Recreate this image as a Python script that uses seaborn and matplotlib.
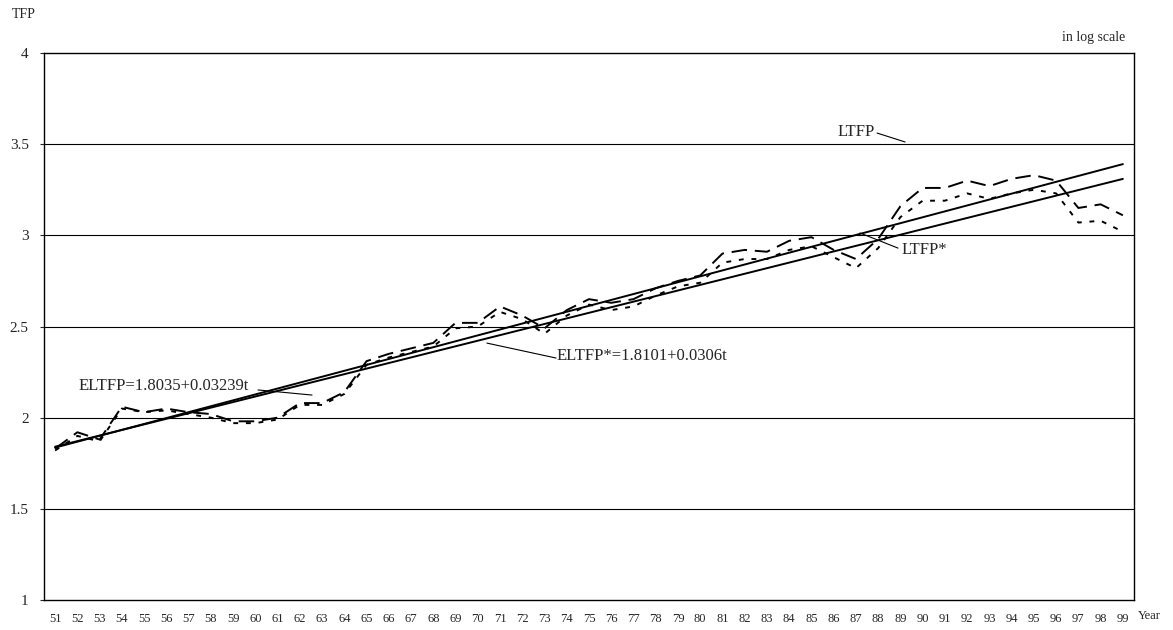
import numpy as np
import pandas as pd
import matplotlib
matplotlib.use("Agg")
import matplotlib.pyplot as plt
import seaborn as sns

years = list(range(51, 100))
ltfp = [1.83, 1.92, 1.88, 2.06, 2.03, 2.05, 2.03, 2.02, 1.98, 1.98,
        2.00, 2.08, 2.08, 2.14, 2.31, 2.35, 2.38, 2.41, 2.52, 2.52,
        2.61, 2.56, 2.49, 2.59, 2.65, 2.63, 2.65, 2.71, 2.75, 2.78,
        2.90, 2.92, 2.91, 2.97, 2.99, 2.92, 2.87, 2.98, 3.16, 3.26,
        3.26, 3.30, 3.27, 3.31, 3.33, 3.30, 3.15, 3.17, 3.11]
ltfp_star = [1.82, 1.90, 1.87, 2.05, 2.03, 2.04, 2.02, 2.00, 1.97, 1.97,
             1.99, 2.07, 2.07, 2.13, 2.29, 2.33, 2.36, 2.39, 2.49, 2.50,
             2.58, 2.54, 2.46, 2.56, 2.62, 2.59, 2.61, 2.67, 2.72, 2.74,
             2.85, 2.87, 2.87, 2.92, 2.94, 2.88, 2.82, 2.93, 3.10, 3.19,
             3.19, 3.23, 3.20, 3.23, 3.25, 3.23, 3.07, 3.08, 3.02]

# fitted trends as printed on the chart: a + b*t, t = 1 for 1951
eltfp_coef = (1.8035, 0.03239)
eltfp_star_coef = (1.8101, 0.0306)

t = np.array(years) - 50
df = pd.DataFrame({
    "year": years,
    "LTFP": ltfp,
    "LTFP*": ltfp_star,
    "ELTFP": eltfp_coef[0] + eltfp_coef[1] * t,
    "ELTFP*": eltfp_star_coef[0] + eltfp_star_coef[1] * t,
})

sns.set_style("white")
plt.rcParams["font.family"] = ["Liberation Serif", "DejaVu Serif"]

fig = plt.figure(figsize=(11.73, 6.3), dpi=100)
ax = fig.add_axes([44 / 1173, 30 / 630, 1090 / 1173, 547 / 630])

for y in [1.5, 2, 2.5, 3, 3.5]:
    ax.axhline(y, color="black", lw=0.8, zorder=0)

sns.lineplot(data=df, x="year", y="ELTFP", color="black", lw=1.4, ax=ax)
sns.lineplot(data=df, x="year", y="ELTFP*", color="black", lw=1.4, ax=ax)
sns.lineplot(data=df, x="year", y="LTFP", color="black", lw=1.4,
             dashes=False, linestyle=(0, (8, 4)), ax=ax)
sns.lineplot(data=df, x="year", y="LTFP*", color="black", lw=1.4,
             dashes=False, linestyle=(0, (2.5, 4)), ax=ax)

ax.set_xlim(50.5, 99.5)
ax.set_ylim(1, 4)
ax.set_yticks([1, 1.5, 2, 2.5, 3, 3.5, 4])
ax.set_yticklabels(["1", "1.5", "2", "2.5", "3", "3.5", "4"], fontsize=11)
ax.set_xticks(years)
ax.set_xticklabels([str(y) for y in years], fontsize=9)
ax.set_xticks(np.arange(51.5, 99.5, 1), minor=True)
ax.tick_params(axis="x", which="major", length=0, pad=9)
ax.tick_params(axis="x", which="minor", direction="in", length=3, width=0.8)
ax.tick_params(axis="y", length=3, width=0.8, direction="out", left=True, pad=8)
ax.set_xlabel("")
ax.set_ylabel("")
for s in ax.spines.values():
    s.set_color("black")
    s.set_linewidth(1.0)

# labels with leader lines
lab = dict(fontsize=12, va="center", ha="left")
ax.text(52.03, 2.174, "ELTFP=1.8035+0.03239t", **lab)
ax.plot([60.12, 62.55], [2.152, 2.124], color="black", lw=0.8)
ax.text(73.56, 2.338, "ELTFP*=1.8101+0.0306t", **lab)
ax.plot([70.41, 73.52], [2.409, 2.327], color="black", lw=0.8)
ax.text(86.15, 3.567, "LTFP", **lab)
ax.plot([87.95, 89.21], [3.561, 3.512], color="black", lw=0.8)
ax.text(89.07, 2.92, "LTFP*", **lab)
ax.plot([87.18, 88.89], [3.013, 2.93], color="black", lw=0.8)

fig.text(1125 / 1173, 1 - 37 / 630, "in log scale", fontsize=10,
         ha="right", va="center")
fig.text(12 / 1173, 1 - 14 / 630, "TFP", fontsize=10, ha="left", va="center")
fig.text(1138 / 1173, 1 - 616 / 630, "Year", fontsize=9, ha="left", va="center")

fig.savefig("out.png", dpi=100)
